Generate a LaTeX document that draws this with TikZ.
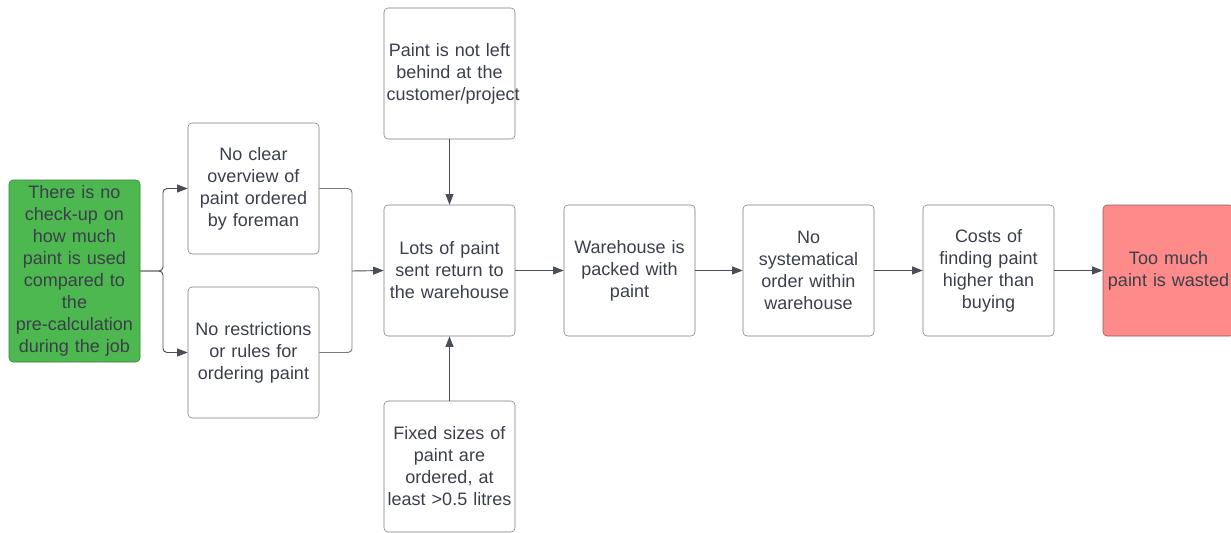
\documentclass[tikz,border=0pt]{standalone}
\usepackage{fontspec}
\setmainfont{Liberation Sans}
\usetikzlibrary{arrows.meta}

\definecolor{txtgray}{HTML}{3A3F4A}
\definecolor{boxline}{HTML}{7A7A7A}
\definecolor{arrline}{HTML}{4A4E57}
\definecolor{causegreen}{HTML}{4DB84F}
\definecolor{causeedge}{HTML}{3A7D3C}
\definecolor{effectred}{HTML}{FF8A8A}
\definecolor{effectedge}{HTML}{8A5A5A}

\tikzset{
    box/.style={draw=boxline, rounded corners=3pt, text width=94.25pt,
        minimum height=98.25pt, align=center, text=txtgray,
        font=\fontsize{13.5}{16.5}\selectfont, inner sep=2pt},
    arr/.style={draw=arrline, line width=0.7pt, rounded corners=3pt,
        -{Triangle[length=8pt,width=6pt]}},
    link/.style={draw=boxline, line width=0.7pt, rounded corners=3pt}
}

\begin{document}
\begin{tikzpicture}[x=0.75pt, y=-0.75pt]
    \useasboundingbox (0,0) rectangle (1231,532);

    % Root cause
    \node[box, fill=causegreen, draw=causeedge, minimum height=136.5pt] (checkup) at (74.5,271)
        {There is no\\check-up on\\how much\\paint is used\\compared to\\the\\pre-calculation\\during the job};

    % Second column
    \node[box] (overview) at (253.5,188.5) {No clear\\overview of\\paint ordered\\by foreman};
    \node[box] (rules) at (253.5,352.5) {No restrictions\\or rules for\\ordering paint};

    % Middle column
    \node[box] (leftbehind) at (449.5,73.5) {Paint is not left\\behind at the\\customer/project};
    \node[box] (returned) at (449.5,270.5) {Lots of paint\\sent return to\\the warehouse};
    \node[box] (sizes) at (449.5,466.5) {Fixed sizes of\\paint are\\ordered, at\\least >0.5 litres};

    % Chain to the right
    \node[box] (packed) at (629.5,270.5) {Warehouse is\\packed with\\paint};
    \node[box] (order) at (808.5,270.5) {No\\systematical\\order within\\warehouse};
    \node[box] (costs) at (988.5,270.5) {Costs of\\finding paint\\higher than\\buying};
    \node[box, fill=effectred, draw=effectedge] (wasted) at (1168.5,270.5) {Too much\\paint is wasted};

    % Split and merge points
    \coordinate (split) at (163,271);
    \coordinate (merge) at (352,271);

    \draw[arr] (checkup.east) -- (split) |- (overview.west);
    \draw[arr] (checkup.east) -- (split) |- (rules.west);
    \draw[link] (overview.east) -| (merge);
    \draw[link] (rules.east) -| (merge);
    \draw[arr] (merge) -- (returned.west);

    \draw[arr] (leftbehind.south) -- (returned.north);
    \draw[arr] (sizes.north) -- (returned.south);

    \draw[arr] (returned.east) -- (packed.west);
    \draw[arr] (packed.east) -- (order.west);
    \draw[arr] (order.east) -- (costs.west);
    \draw[arr] (costs.east) -- (wasted.west);
\end{tikzpicture}
\end{document}
